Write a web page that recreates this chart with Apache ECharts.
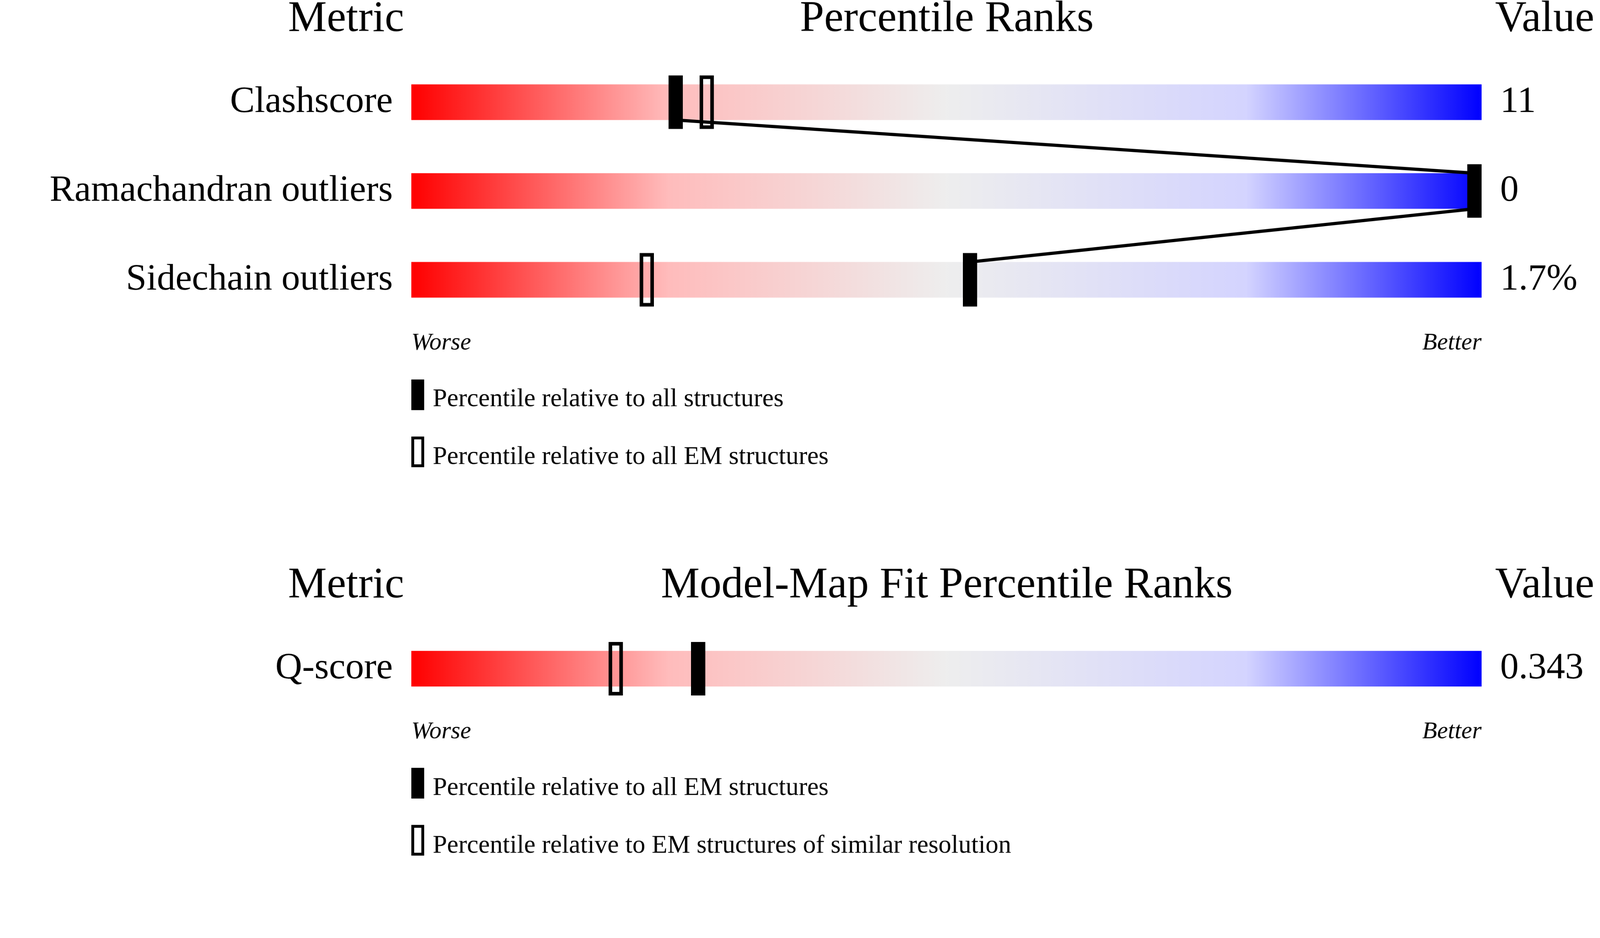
<!DOCTYPE html>
<html><head><meta charset="utf-8">
<script src="https://cdn.jsdelivr.net/npm/echarts@6/dist/echarts.min.js"></script>
<style>html,body{margin:0;padding:0;background:#fff;overflow:hidden}#c{width:4485px;height:2402px;transform-origin:0 0}</style>
</head><body><div id="c"></div>
<script>
const metricsTop = ['Clashscore', 'Ramachandran outliers', 'Sidechain outliers'];
const valuesTop = ['11', '0', '1.7%'];
const pctAllTop = [24.7, 100, 52.2];
const pctEmTop = [27.6, null, 22.0];
const metricsBot = ['Q-score'];
const valuesBot = ['0.343'];
const pctAllBot = [26.8];
const pctSimBot = [19.1];

const el = document.getElementById('c');
const sc = Math.min(window.innerWidth/4485, window.innerHeight/2402);
if (sc > 0 && Math.abs(sc-1) > 0.001) el.style.transform = 'scale(' + sc + ')';

const F = 'Liberation Serif';
const grad = {type:'linear',x:0,y:0,x2:1,y2:0,colorStops:[
  {offset:0,color:'#ff0000'},{offset:0.24,color:'#ffbcbc'},{offset:0.5,color:'#eeeeee'},
  {offset:0.78,color:'#d4d4ff'},{offset:1,color:'#0000ff'}]};
const BAR_H = 100, MW = 40, MH = 150;
function clampX(x){return Math.min(Math.max(x, 1153 + MW/2), 4153 - MW/2);}

function markerItem(filled){
  return function(params, api){
    const v = api.value(0); if (v == null || isNaN(v)) return null;
    const p = api.coord([v, api.value(1)]);
    const x = clampX(p[0]);
    return filled
      ? {type:'rect', shape:{x:x-MW/2, y:p[1]-MH/2, width:MW, height:MH}, style:{fill:'#000'}}
      : {type:'rect', shape:{x:x-MW/2+5, y:p[1]-MH/2+5, width:MW-10, height:MH-10}, style:{fill:'none', stroke:'#000', lineWidth:10}};
  };
}

const grids = [
  {left:1153, width:3000, top:162, height:747},
  {left:1153, width:3000, top:1775, height:200}
];
const series = [];
[[metricsTop,pctAllTop,pctEmTop,0],[metricsBot,pctAllBot,pctSimBot,1]].forEach(([cats,all,open,gi])=>{
  series.push({type:'bar', xAxisIndex:gi, yAxisIndex:gi, data:cats.map(()=>100), barWidth:BAR_H,
    itemStyle:{color:grad}, silent:true, animation:false});
  series.push({type:'custom', xAxisIndex:gi, yAxisIndex:gi, animation:false, z:4,
    data:open.map((v,i)=>[v,i]), renderItem:markerItem(false)});
  series.push({type:'custom', xAxisIndex:gi, yAxisIndex:gi, animation:false, z:5,
    data:all.map((v,i)=>[v,i]), renderItem:markerItem(true)});
});
series.push({type:'custom', xAxisIndex:0, yAxisIndex:0, animation:false, z:3,
  data:pctAllTop.slice(0,-1).map((v,i)=>[v,i,pctAllTop[i+1],i+1]),
  renderItem:function(params, api){
    const a = api.coord([api.value(0), api.value(1)]);
    const b = api.coord([api.value(2), api.value(3)]);
    return {type:'line', shape:{x1:clampX(a[0]), y1:a[1]+BAR_H/2, x2:clampX(b[0]), y2:b[1]-BAR_H/2},
      style:{stroke:'#000', lineWidth:9}};
  }});

function txt(x,y,t,size,align,italic){
  return {type:'text', x:x, y:y, style:{text:t, font:(italic?'italic ':'')+size+'px "'+F+'"', fill:'#000', align:align||'left', verticalAlign:'middle'}};
}
const graphic = [
  txt(970,55,'Metric',122,'center'), txt(2654,55,'Percentile Ranks',122,'center'), txt(4330,55,'Value',122,'center'),
  txt(970,1643,'Metric',122,'center'), txt(2654,1643,'Model-Map Fit Percentile Ranks',122,'center'), txt(4330,1643,'Value',122,'center'),
  txt(1153,962,'Worse',68,'left',true), txt(4153,962,'Better',68,'right',true),
  txt(1153,2052,'Worse',68,'left',true), txt(4153,2052,'Better',68,'right',true),
  {type:'rect', shape:{x:1153,y:1064,width:36,height:86}, style:{fill:'#000'}},
  txt(1213,1120,'Percentile relative to all structures',72),
  {type:'rect', shape:{x:1157,y:1228,width:28,height:78}, style:{fill:'none',stroke:'#000',lineWidth:8}},
  txt(1213,1282,'Percentile relative to all EM structures',72),
  {type:'rect', shape:{x:1153,y:2153,width:36,height:86}, style:{fill:'#000'}},
  txt(1213,2210,'Percentile relative to all EM structures',72),
  {type:'rect', shape:{x:1157,y:2317,width:28,height:78}, style:{fill:'none',stroke:'#000',lineWidth:8}},
  txt(1213,2372,'Percentile relative to EM structures of similar resolution',72)
];
const chart = echarts.init(el);
chart.setOption({
  animation:false,
  grid:grids,
  xAxis:[0,1].map(i=>({type:'value', gridIndex:i, min:0, max:100, show:false})),
  yAxis:[[metricsTop,valuesTop],[metricsBot,valuesBot]].map(([cats,vals],i)=>({
    type:'category', gridIndex:i, data:cats, inverse:true,
    axisLine:{show:false}, axisTick:{show:false}, splitLine:{show:false},
    axisLabel:{fontFamily:F, fontSize:104, color:'#000', margin:52}
  })).concat([[metricsTop,valuesTop],[metricsBot,valuesBot]].map(([cats,vals],i)=>({
    type:'category', gridIndex:i, data:vals, inverse:true, position:'right',
    axisLine:{show:false}, axisTick:{show:false}, splitLine:{show:false},
    axisLabel:{fontFamily:F, fontSize:104, color:'#000', margin:52, align:'left'}
  }))),
  series:series,
  graphic:graphic
});
</script></body></html>
